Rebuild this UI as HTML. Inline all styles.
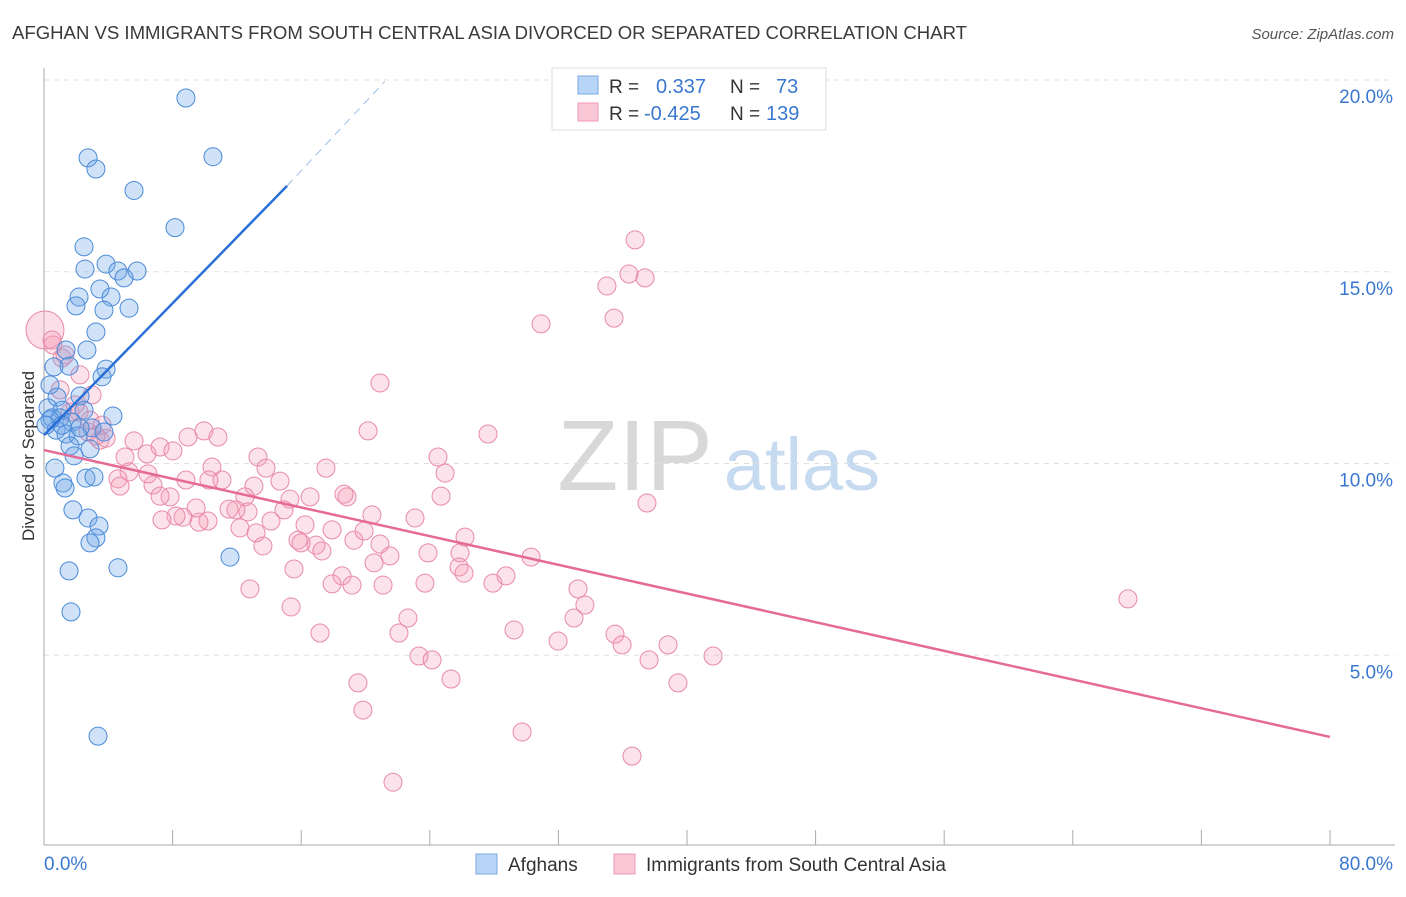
<!DOCTYPE html>
<html><head><meta charset="utf-8">
<style>
body{margin:0;background:#fff;font-family:"Liberation Sans",sans-serif;}
svg text{font-family:"Liberation Sans",sans-serif;}
</style></head>
<body>
<svg id="chart" width="1406" height="892" xmlns="http://www.w3.org/2000/svg">
<text x="12" y="39" font-size="18" fill="#3a3a3a" textLength="955" lengthAdjust="spacingAndGlyphs">AFGHAN VS IMMIGRANTS FROM SOUTH CENTRAL ASIA DIVORCED OR SEPARATED CORRELATION CHART</text>
<text x="1394" y="39" font-size="15" fill="#555" text-anchor="end" font-style="italic">Source: ZipAtlas.com</text>
<g>
<text x="635" y="490" font-size="100" fill="#d8d8d8" font-family="Liberation Serif" text-anchor="middle">ZIP</text>
<text x="802" y="490" font-size="74" fill="#c6daf0" text-anchor="middle">atlas</text>
</g>
<g id="grid"></g>
<g id="axes"></g>
<g id="pinkPts"></g>
<g id="bluePts"></g>
<g id="lines"></g>
<text transform="translate(34,456) rotate(-90)" font-size="17" fill="#333" text-anchor="middle">Divorced or Separated</text>
<g>
<rect x="552" y="68" width="274" height="62" fill="#fff" stroke="#ddd"/>
<rect x="578" y="76" width="20" height="18" fill="#b8d4f6" stroke="#7aaae6"/>
<rect x="578" y="103" width="20" height="18" fill="#f9c6d6" stroke="#ee9ab6"/>
<text x="609" y="93" font-size="19" fill="#333">R =</text>
<text x="656" y="93" font-size="20" fill="#3a78d0">0.337</text>
<text x="730" y="93" font-size="19" fill="#333">N =</text>
<text x="776" y="93" font-size="20" fill="#3a78d0">73</text>
<text x="609" y="120" font-size="19" fill="#333">R =</text>
<text x="644" y="120" font-size="20" fill="#3a78d0">-0.425</text>
<text x="730" y="120" font-size="19" fill="#333">N =</text>
<text x="766" y="120" font-size="20" fill="#3a78d0">139</text>
</g>
<g>
<rect x="476" y="854" width="21" height="20" fill="#b8d4f6" stroke="#7aaae6"/>
<text x="508" y="871" font-size="19" fill="#333">Afghans</text>
<rect x="614" y="854" width="21" height="20" fill="#f9c6d6" stroke="#ee9ab6"/>
<text x="646" y="871" font-size="19" fill="#333">Immigrants from South Central Asia</text>
</g>
</svg>
<script>
const yTicks=[5,10,15,20];
const yTickLabels=["5.0%","10.0%","15.0%","20.0%"];
const xTicks=[0,8,16,24,32,40,48,56,64,72,80];
const xTickLabels=["0.0%","80.0%"];
const blueX=[8.83,10.51,2.74,3.23,5.6,8.15,2.49,2.55,3.86,4.6,5.79,4.98,3.48,4.17,2.18,1.99,3.73,5.29,3.23,2.67,1.37,0.62,1.56,3.86,3.61,0.37,0.81,2.24,0.25,1.12,2.49,4.29,0.5,1.0,1.74,0.75,1.37,2.99,3.73,2.12,1.62,2.86,1.87,0.68,1.18,1.31,2.61,3.11,1.8,2.74,3.42,3.23,2.86,4.6,1.56,1.68,11.57,3.36,0.37,0.12,1.12,2.24];
const blueY=[19.53,18.0,17.97,17.68,17.12,16.15,15.65,15.07,15.2,15.02,15.02,14.84,14.55,14.34,14.34,14.11,14.0,14.05,13.43,12.96,12.96,12.52,12.54,12.46,12.26,12.05,11.73,11.76,11.45,11.39,11.39,11.24,11.19,11.19,11.08,10.87,10.77,10.93,10.82,10.72,10.46,10.38,10.2,9.88,9.49,9.36,9.62,9.65,8.79,8.58,8.37,8.06,7.93,7.28,7.2,6.13,7.56,2.89,11.14,11.0,11.0,10.93];
const pinkX=[36.77,36.39,37.39,35.02,35.46,30.92,20.9,27.62,20.16,9.95,10.82,8.96,13.31,17.54,13.81,24.51,24.95,10.45,11.07,14.68,13.06,12.5,10.26,6.78,7.84,8.83,5.6,7.22,6.41,8.02,5.04,5.29,6.47,4.6,4.73,3.48,2.74,3.86,3.23,2.18,1.62,2.99,1.0,0.56,1.12,18.85,18.66,16.55,15.3,14.93,12.69,11.94,11.51,10.2,9.64,9.46,8.65,8.21,7.34,7.22,12.19,13.19,13.62,14.12,16.24,15.8,16.92,15.99,17.29,17.92,19.28,20.4,19.91,20.9,21.52,23.08,23.89,24.7,26.19,25.88,25.82,20.53,18.54,19.16,17.92,21.09,23.7,26.13,27.93,28.74,30.3,33.22,33.65,32.97,37.51,35.52,35.96,31.98,29.24,22.64,22.08,17.17,15.37,15.55,12.81,23.33,24.14,25.32,19.53,19.84,29.74,36.58,21.71,37.64,38.82,39.44,41.62,67.43,0.5,1.31,2.24,1.93,2.86,3.61];
const pinkY=[15.83,14.94,14.84,14.63,13.79,13.64,12.1,10.77,10.85,10.85,10.69,10.69,10.17,9.88,9.88,10.17,9.75,9.91,9.57,9.54,9.41,9.13,9.57,9.44,9.13,9.57,10.59,10.43,10.25,10.33,10.17,9.78,9.73,9.6,9.41,10.61,10.82,10.66,10.72,11.34,11.34,11.79,11.92,13.09,12.75,9.13,9.2,9.13,9.07,8.79,8.74,8.79,8.81,8.5,8.47,8.84,8.6,8.63,8.53,9.15,8.32,8.19,7.85,8.5,8.4,8.0,7.87,7.93,7.72,8.27,8.0,8.66,8.24,7.9,7.59,8.58,7.67,9.15,8.08,7.67,7.3,7.41,7.07,6.83,6.86,6.83,6.88,7.14,6.88,7.07,7.56,6.73,6.31,5.97,8.97,5.55,5.27,5.37,5.66,5.97,5.58,5.58,6.26,7.25,6.73,4.98,4.88,4.38,4.28,3.57,3.0,2.37,1.69,4.88,5.27,4.28,4.98,6.47,13.22,12.83,12.31,11.53,11.13,11.0];
const bigPinkX=[0.06];
const bigPinkY=[13.48];
const blueTrendX=[0,15.12,21.2];
const blueTrendY=[10.74,17.24,19.96];
const pinkTrendX=[0,80];
const pinkTrendY=[10.35,2.87];

const X0=44,X1=1330,Y0=847,PY=38.35;
const sx=v=>X0+v*(X1-X0)/80;
const sy=v=>Y0-v*PY;
const NS="http://www.w3.org/2000/svg";
function mk(tag,parent,attrs){const e=document.createElementNS(NS,tag);for(const k in attrs)e.setAttribute(k,attrs[k]);document.getElementById(parent).appendChild(e);return e;}

yTicks.forEach((t,i)=>{
 const l=mk('line','grid',{x1:X0,x2:1395,y1:sy(t),y2:sy(t),stroke:'#e0e0e0','stroke-dasharray':'5,5'});
 
 
 const tx=mk('text','grid',{x:1393,y:sy(t)+23,'font-size':19,fill:'#3a78d0','text-anchor':'end'});
 tx.textContent=yTickLabels[i];
 
 
});
const ya=mk('line','axes',{x1:X0,x2:X0,y1:68,y2:845,stroke:'#aaa'});


const xa=mk('line','axes',{x1:X0,x2:1395,y1:845,y2:845,stroke:'#aaa'});


xTicks.forEach(t=>{
 const l=mk('line','axes',{x1:sx(t),x2:sx(t),y1:830,y2:845,stroke:'#aaa'});
 
 
});
const xl0=mk('text','axes',{x:X0,y:870,'font-size':19,fill:'#3a78d0'});xl0.textContent=xTickLabels[0];


const xl1=mk('text','axes',{x:1393,y:870,'font-size':19,fill:'#3a78d0','text-anchor':'end'});xl1.textContent=xTickLabels[1];



bigPinkX.forEach((v,i)=>{
 const c=mk('circle','pinkPts',{cx:sx(v),cy:sy(bigPinkY[i]),r:19,fill:'rgba(244,160,185,0.35)',stroke:'#e88aa8','stroke-width':1});
 
 
});
pinkX.forEach((v,i)=>{
 const c=mk('circle','pinkPts',{cx:sx(v),cy:sy(pinkY[i]),r:9,fill:'rgba(244,160,185,0.3)',stroke:'#e88aa8','stroke-width':1});
 
 
});
blueX.forEach((v,i)=>{
 const c=mk('circle','bluePts',{cx:sx(v),cy:sy(blueY[i]),r:9,fill:'rgba(110,165,230,0.32)',stroke:'#4a8ad8','stroke-width':1});
 
 
});
const b1=mk('line','lines',{x1:sx(blueTrendX[0]),y1:sy(blueTrendY[0]),x2:sx(blueTrendX[1]),y2:sy(blueTrendY[1]),stroke:'#2a6fd6','stroke-width':2.5});


const b2=mk('line','lines',{x1:sx(blueTrendX[1]),y1:sy(blueTrendY[1]),x2:sx(blueTrendX[2]),y2:sy(blueTrendY[2]),stroke:'#9bbde8','stroke-width':1,'stroke-dasharray':'8,6'});


const p1=mk('line','lines',{x1:sx(pinkTrendX[0]),y1:sy(pinkTrendY[0]),x2:sx(pinkTrendX[1]),y2:sy(pinkTrendY[1]),stroke:'#e56a96','stroke-width':2.5});


</script>
</body></html>
